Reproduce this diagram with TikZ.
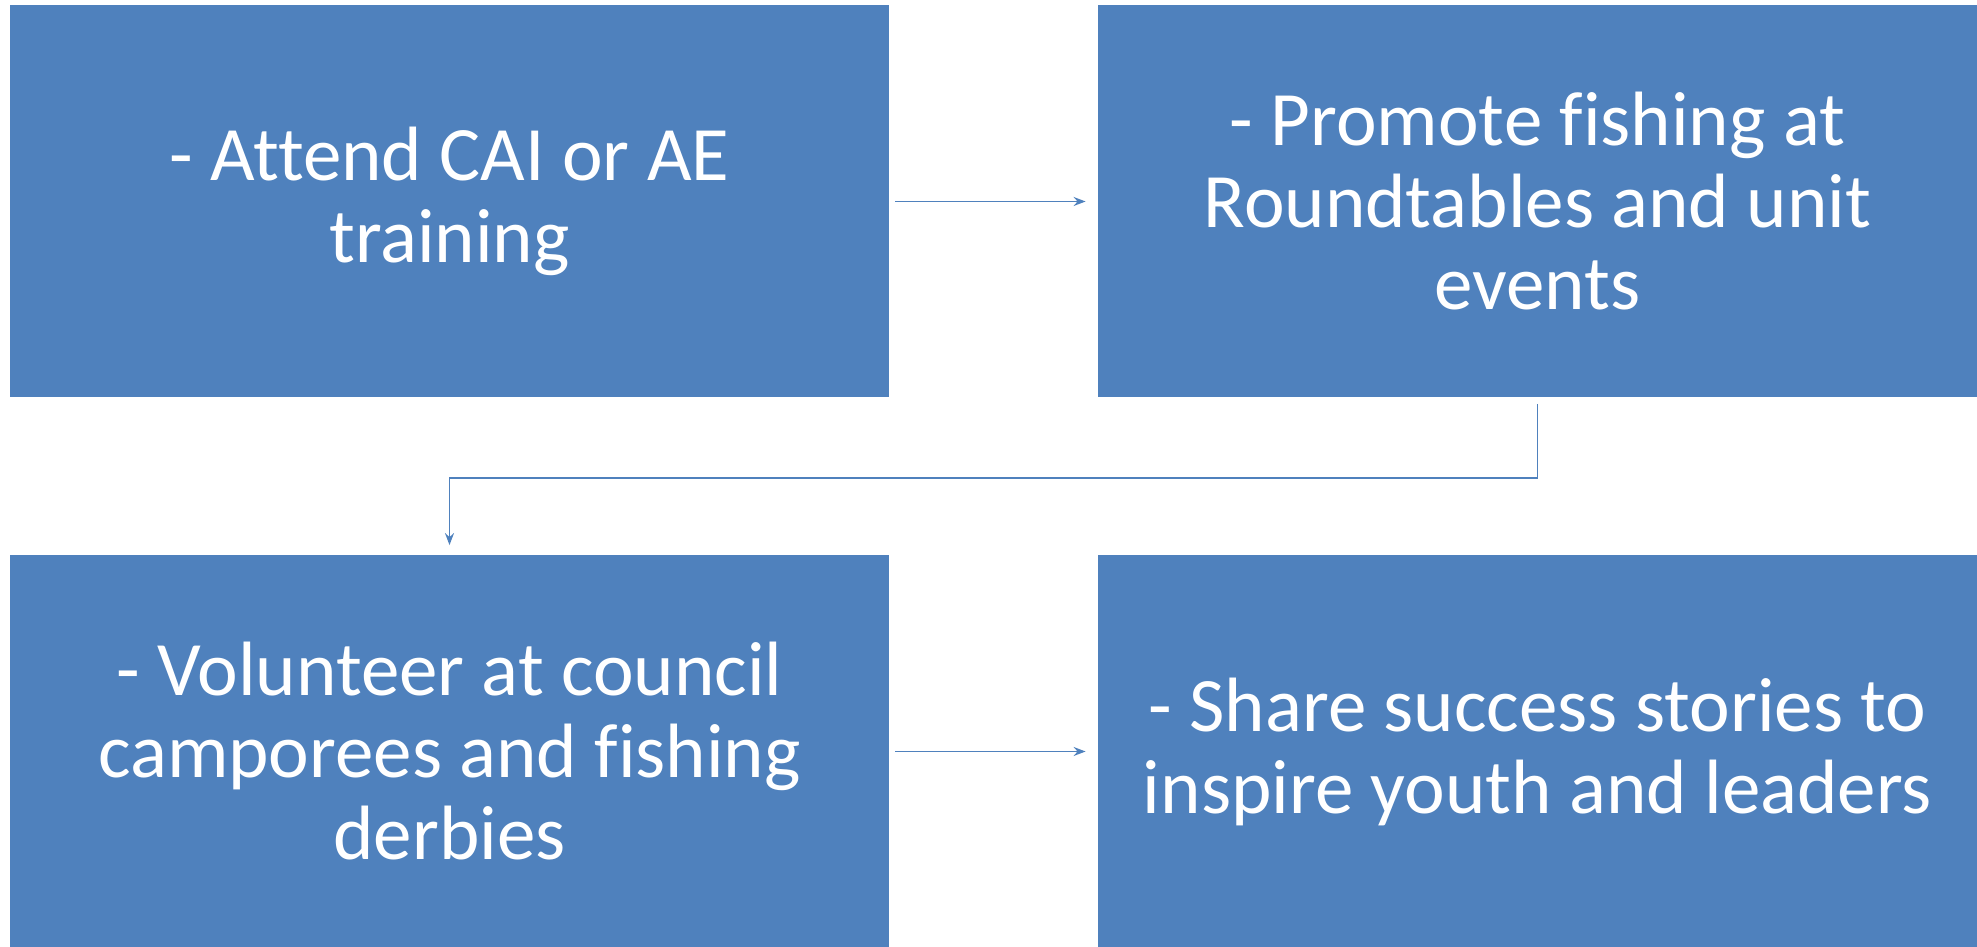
\documentclass[tikz,border=0pt]{standalone}
\usepackage{fontspec}
\setmainfont{Carlito}[Ligatures={NoCommon}]
\usepackage{xcolor}
\usetikzlibrary{arrows.meta,positioning}
\definecolor{boxblue}{HTML}{4F81BD}
\tikzset{
    box/.style={fill=boxblue, draw=none, text=white, align=center, inner sep=0pt,
        minimum width=439.5pt, minimum height=196pt, font=\fontsize{38.5}{41}\selectfont},
    link/.style={draw=boxblue, line width=0.9pt, -{Stealth[length=6pt,width=4.5pt,inset=2pt]}}}

\begin{document}
\begin{tikzpicture}[x=0.5pt,y=0.5pt]
\useasboundingbox (0,0) rectangle (1977,947);
\node[box] (attend) at (449.5,745.5) {- Attend CAI or AE\\training};
\node[box] (promote) at (1537.5,745.5) {- Promote fishing at\\Roundtables and unit\\events};
\node[box] (volunteer) at (449.5,195.5) {- Volunteer at council\\camporees and fishing\\derbies};
\node[box] (share) at (1537.5,195.5) {- Share success stories to\\inspire youth and leaders};

\draw[link] ([xshift=3pt]attend.east) -- ([xshift=-6pt]promote.west);
\draw[link] ([yshift=-3pt]promote.south) -- ++(0,-37pt) -| ([yshift=5pt]volunteer.north);
\draw[link] ([xshift=3pt]volunteer.east) -- ([xshift=-6pt]share.west);
\end{tikzpicture}
\end{document}
